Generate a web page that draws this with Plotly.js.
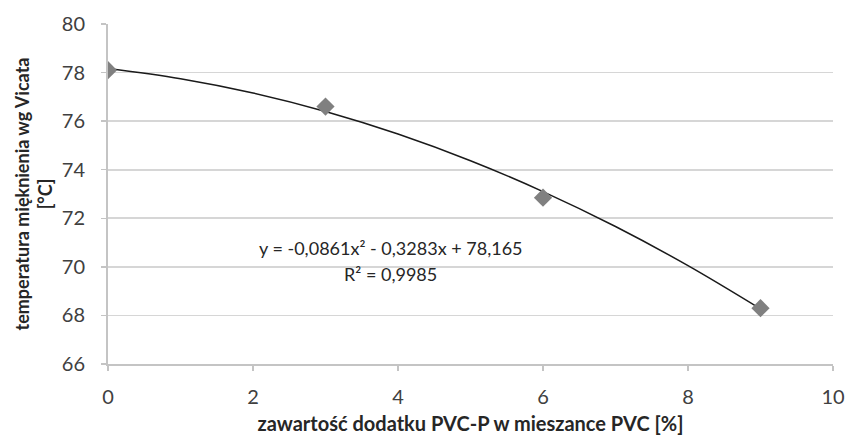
<!DOCTYPE html>
<html><head><meta charset="utf-8">
<script src="https://cdn.plot.ly/plotly-3.0.1.min.js"></script>
<style>body{margin:0;background:#fff}#chart{width:847px;height:439px}</style>
</head><body><div id="chart"></div>
<script>
// measured points
var pointX = [0, 3, 6, 9];
var pointY = [78.1, 76.6, 72.85, 68.3];
// trend curve
var trendX = [0, 1, 2, 3, 4, 5, 6, 7, 8, 9];
var trendY = [78.17, 77.75, 77.16, 76.40, 75.47, 74.37, 73.10, 71.66, 70.05, 68.27];
var xTicks = [0, 2, 4, 6, 8, 10];
var yTicks = [66, 68, 70, 72, 74, 76, 78, 80];
var eqText = "y = -0,0861x² - 0,3283x + 78,165";
var r2Text = "R² = 0,9985";
var xTitle = "zawartość dodatku PVC-P w mieszance PVC [%]";
var yTitle = "temperatura mięknienia wg Vicata<br>[°C]";

var font = "Lato, 'Open Sans', sans-serif";
var data = [
  {x: trendX, y: trendY, mode: 'lines', line: {color: '#1a1a1a', width: 1.5, shape: 'spline'}, hoverinfo: 'skip'},
  {x: pointX, y: pointY, mode: 'markers', marker: {symbol: 'diamond', size: 14, color: '#808080'}}
];
var layout = {
  width: 847, height: 439,
  margin: {l: 108, r: 14, t: 24, b: 75},
  showlegend: false,
  paper_bgcolor: '#fff', plot_bgcolor: '#fff',
  font: {family: font, color: '#595959', size: 14},
  xaxis: {
    range: [0, 10], tickvals: xTicks, ticktext: xTicks.map(String),
    showgrid: false, zeroline: false, showline: true, linecolor: '#c4c4c4', linewidth: 2,
    ticks: 'outside', ticklen: 5, tickcolor: '#c4c4c4', tickwidth: 1.5,
    ticklabelstandoff: 9,
    tickfont: {size: 20, color: '#404040'},
    title: {text: xTitle, font: {size: 20, color: '#262626', weight: 'bold'}, standoff: 10}
  },
  yaxis: {
    range: [66, 80], tickvals: yTicks, ticktext: yTicks.map(String),
    showgrid: true, gridcolor: '#d6d6d6', gridwidth: 1.8, zeroline: false,
    showline: true, linecolor: '#c4c4c4', linewidth: 2,
    ticks: 'outside', ticklen: 5, tickcolor: '#c4c4c4', tickwidth: 1.5,
    ticklabelstandoff: 12,
    tickfont: {size: 20, color: '#404040'},
    title: {text: yTitle, font: {size: 18, color: '#262626', weight: 'bold'}, standoff: 4}
  },
  annotations: [
    {xref: 'x', yref: 'y', x: 3.9, y: 70.78, text: eqText, showarrow: false, font: {size: 18, color: '#262626'}},
    {xref: 'x', yref: 'y', x: 3.9, y: 69.7, text: r2Text, showarrow: false, font: {size: 18, color: '#262626'}}
  ]
};
Plotly.newPlot('chart', data, layout, {displayModeBar: false, staticPlot: true});
</script></body></html>
